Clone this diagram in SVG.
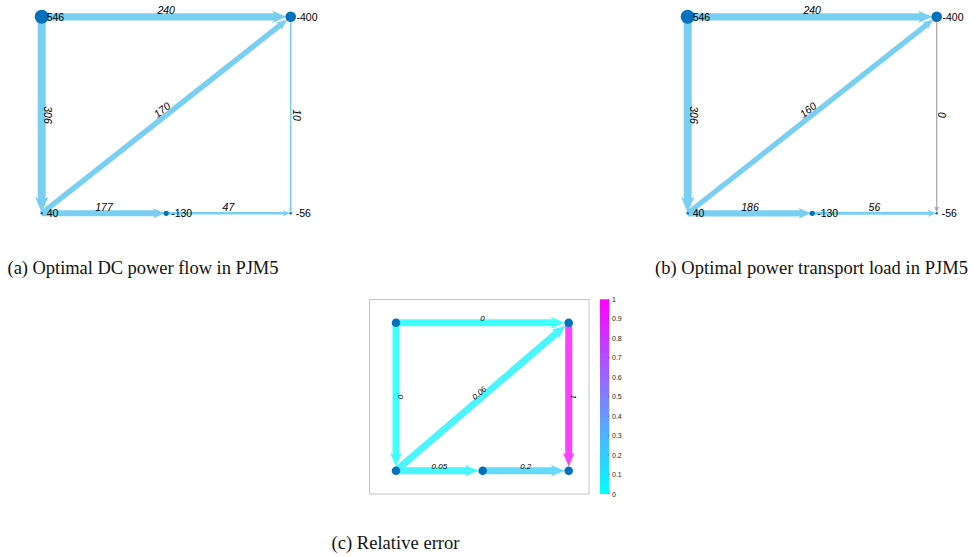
<svg xmlns="http://www.w3.org/2000/svg" width="980" height="557" viewBox="0 0 980 557">
<style>
text{font-family:"Liberation Sans",Arial,sans-serif;fill:#000}
.nl{font-size:10.5px}
.el{font-size:10.5px;font-style:italic;text-anchor:middle}
.ce{font-size:8px;font-style:italic;text-anchor:middle}
.tk{font-size:7px;fill:#262626}
.cap{font-family:"Liberation Serif","Times New Roman",serif;font-size:18.5px;fill:#111}
.e{fill:none;stroke-linecap:butt}
.b{stroke:#79CFF2;marker-end:url(#ab)}
.bt{stroke:#79CFF2;marker-end:url(#at)}
.g{stroke:#A6A6A6;marker-end:url(#ag)}
.nd{fill:#0072BD}
.frame{fill:none;stroke:#C4C4C4;stroke-width:1}
</style>
<defs>
<marker id="ab" viewBox="0 0 20 17" refX="6" refY="8.5" markerWidth="2" markerHeight="1.7" orient="auto" markerUnits="strokeWidth"><path d="M0,0 L20,8.5 L0,17 L6,8.5 Z" fill="#79CFF2"/></marker>
<marker id="at" viewBox="0 0 20 17" refX="6" refY="8.5" markerWidth="2.8" markerHeight="2.38" orient="auto" markerUnits="strokeWidth"><path d="M0,0 L20,8.5 L0,17 L6,8.5 Z" fill="#79CFF2"/></marker>
<marker id="ag" viewBox="0 0 20 17" refX="6" refY="8.5" markerWidth="5" markerHeight="4.25" orient="auto" markerUnits="strokeWidth"><path d="M0,0 L20,8.5 L0,17 L6,8.5 Z" fill="#A6A6A6"/></marker>
<marker id="c0" viewBox="0 0 20 17" refX="6" refY="8.5" markerWidth="2" markerHeight="1.7" orient="auto" markerUnits="strokeWidth"><path d="M0,0 L20,8.5 L0,17 L6,8.5 Z" fill="#40FFFF"/></marker>
<marker id="c06" viewBox="0 0 20 17" refX="6" refY="8.5" markerWidth="2" markerHeight="1.7" orient="auto" markerUnits="strokeWidth"><path d="M0,0 L20,8.5 L0,17 L6,8.5 Z" fill="#4BF4FF"/></marker>
<marker id="c05" viewBox="0 0 20 17" refX="6" refY="8.5" markerWidth="2" markerHeight="1.7" orient="auto" markerUnits="strokeWidth"><path d="M0,0 L20,8.5 L0,17 L6,8.5 Z" fill="#49F5FF"/></marker>
<marker id="c2" viewBox="0 0 20 17" refX="6" refY="8.5" markerWidth="2" markerHeight="1.7" orient="auto" markerUnits="strokeWidth"><path d="M0,0 L20,8.5 L0,17 L6,8.5 Z" fill="#66D9FF"/></marker>
<marker id="c1" viewBox="0 0 20 17" refX="6" refY="8.5" markerWidth="2" markerHeight="1.7" orient="auto" markerUnits="strokeWidth"><path d="M0,0 L20,8.5 L0,17 L6,8.5 Z" fill="#FF40FF"/></marker>
<linearGradient id="cool" x1="0" y1="1" x2="0" y2="0">
<stop offset="0" stop-color="#00FFFF"/><stop offset="1" stop-color="#FF00FF"/>
</linearGradient>
</defs>

<!-- Panel (a) -->
<g id="panel-a">
<g id="a-connectors">
<path class="e b" stroke-width="8" d="M41.7,16.8 L41.7,201.3"/>
<path class="e b" stroke-width="7.3" d="M41.7,16.8 L276.3,16.8"/>
<path class="e b" stroke-width="5.5" d="M41.7,213.3 L281.13,24.36"/>
<path class="e b" stroke-width="6" d="M41.7,213.3 L156.6,213.3"/>
<path class="e bt" stroke-width="2.6" d="M166.2,213.3 L284.9,213.3"/>
<path class="e bt" stroke-width="1.6" d="M290.7,16.8 L290.7,209.2"/>
<text class="el" x="166.2" y="14">240</text>
<text class="el" transform="translate(44.4,115) rotate(90)">306</text>
<text class="el" transform="translate(164.4,112.8) rotate(-38.3)">170</text>
<text class="el" x="104" y="211">177</text>
<text class="el" x="228.4" y="211">47</text>
<text class="el" transform="translate(292.6,115) rotate(90)">10</text>
</g>
<g id="a-n1"><circle class="nd" cx="41.7" cy="16.8" r="7"/><text class="nl" x="46.7" y="20.5">546</text></g>
<g id="a-n2"><circle class="nd" cx="290.7" cy="16.8" r="5.3"/><text class="nl" x="296.5" y="20.5">-400</text></g>
<g id="a-n3"><circle class="nd" cx="41.7" cy="213.3" r="1.3"/><text class="nl" x="46.7" y="217.2">40</text></g>
<g id="a-n4"><circle class="nd" cx="166.2" cy="213.3" r="2.6"/><text class="nl" x="171.2" y="217.2">-130</text></g>
<g id="a-n5"><circle class="nd" cx="290.7" cy="213.3" r="1.3"/><text class="nl" x="295.7" y="217.2">-56</text></g>
</g>

<!-- Panel (b) -->
<g id="panel-b" transform="translate(646,0)">
<g id="b-connectors">
<path class="e b" stroke-width="8" d="M41.7,16.8 L41.7,201.3"/>
<path class="e b" stroke-width="7.3" d="M41.7,16.8 L276.3,16.8"/>
<path class="e b" stroke-width="5.2" d="M41.7,213.3 L281.46,24.1"/>
<path class="e b" stroke-width="6.3" d="M41.7,213.3 L156.2,213.3"/>
<path class="e bt" stroke-width="3" d="M166.2,213.3 L284.1,213.3"/>
<path class="e g" stroke-width="1.2" d="M290.7,16.8 L290.7,208.1"/>
<text class="el" x="166.2" y="14">240</text>
<text class="el" transform="translate(44.4,115) rotate(90)">306</text>
<text class="el" transform="translate(164.4,112.8) rotate(-38.3)">160</text>
<text class="el" x="104" y="211">186</text>
<text class="el" x="228.4" y="211">56</text>
<text class="el" transform="translate(292.4,115) rotate(90)">0</text>
</g>
<g id="b-n1"><circle class="nd" cx="41.7" cy="16.8" r="7"/><text class="nl" x="46.7" y="20.5">546</text></g>
<g id="b-n2"><circle class="nd" cx="290.7" cy="16.8" r="5.3"/><text class="nl" x="296.5" y="20.5">-400</text></g>
<g id="b-n3"><circle class="nd" cx="41.7" cy="213.3" r="1.3"/><text class="nl" x="46.7" y="217.2">40</text></g>
<g id="b-n4"><circle class="nd" cx="166.2" cy="213.3" r="2.6"/><text class="nl" x="171.2" y="217.2">-130</text></g>
<g id="b-n5"><circle class="nd" cx="290.7" cy="213.3" r="1.3"/><text class="nl" x="295.7" y="217.2">-56</text></g>
</g>

<!-- Panel (c) -->
<g id="panel-c">
<rect class="frame" x="369.5" y="299.5" width="219.5" height="194.5"/>
<g id="c-connectors">
<path class="e" stroke="#40FFFF" stroke-width="7" marker-end="url(#c0)" d="M396,322.7 L396,456.7"/>
<path class="e" stroke="#FF40FF" stroke-width="7" marker-end="url(#c1)" d="M568.7,322.7 L568.7,456.7"/>
<path class="e" stroke="#4BF4FF" stroke-width="7" marker-end="url(#c06)" d="M396,470.7 L558,331.88"/>
<path class="e" stroke="#40FFFF" stroke-width="7" marker-end="url(#c0)" d="M396,322.7 L554.7,322.7"/>
<path class="e" stroke="#49F5FF" stroke-width="7" marker-end="url(#c05)" d="M396,470.7 L468.7,470.7"/>
<path class="e" stroke="#66D9FF" stroke-width="7" marker-end="url(#c2)" d="M482.7,470.7 L554.7,470.7"/>
<text class="ce" x="482.4" y="321.2">0</text>
<text class="ce" transform="translate(398.4,396.7) rotate(90)">0</text>
<text class="ce" transform="translate(481,395.1) rotate(-40.6)">0.06</text>
<text class="ce" transform="translate(570.5,396.7) rotate(90)">1</text>
<text class="ce" x="439.4" y="469.3">0.05</text>
<text class="ce" x="525.7" y="469.3">0.2</text>
</g>
<g id="c-n1"><circle class="nd" cx="396" cy="322.7" r="4.3"/></g>
<g id="c-n2"><circle class="nd" cx="568.7" cy="322.7" r="4.3"/></g>
<g id="c-n3"><circle class="nd" cx="396" cy="470.7" r="4.3"/></g>
<g id="c-n4"><circle class="nd" cx="482.7" cy="470.7" r="4.3"/></g>
<g id="c-n5"><circle class="nd" cx="568.7" cy="470.7" r="4.3"/></g>
<g id="colorbar">
<rect x="600" y="299.3" width="9.3" height="194.7" fill="url(#cool)"/>
<g stroke="#333" stroke-width="0.5">
<line x1="607.8" y1="299.6" x2="609.3" y2="299.6"/>
<line x1="607.8" y1="318.8" x2="609.3" y2="318.8"/>
<line x1="607.8" y1="338.2" x2="609.3" y2="338.2"/>
<line x1="607.8" y1="357.7" x2="609.3" y2="357.7"/>
<line x1="607.8" y1="377.2" x2="609.3" y2="377.2"/>
<line x1="607.8" y1="396.7" x2="609.3" y2="396.7"/>
<line x1="607.8" y1="416.1" x2="609.3" y2="416.1"/>
<line x1="607.8" y1="435.6" x2="609.3" y2="435.6"/>
<line x1="607.8" y1="455.1" x2="609.3" y2="455.1"/>
<line x1="607.8" y1="474.5" x2="609.3" y2="474.5"/>
<line x1="607.8" y1="493.7" x2="609.3" y2="493.7"/>
</g>
<text class="tk" x="612" y="302">1</text>
<text class="tk" x="612" y="321.3">0.9</text>
<text class="tk" x="612" y="340.7">0.8</text>
<text class="tk" x="612" y="360.2">0.7</text>
<text class="tk" x="612" y="379.7">0.6</text>
<text class="tk" x="612" y="399.2">0.5</text>
<text class="tk" x="612" y="418.6">0.4</text>
<text class="tk" x="612" y="438.1">0.3</text>
<text class="tk" x="612" y="457.6">0.2</text>
<text class="tk" x="612" y="477">0.1</text>
<text class="tk" x="612" y="496.5">0</text>
</g>
</g>

<text class="cap" x="7.5" y="273.5" textLength="271">(a) Optimal DC power flow in PJM5</text>
<text class="cap" x="655" y="273.5" textLength="313">(b) Optimal power transport load in PJM5</text>
<text class="cap" x="331.5" y="548.5" textLength="128">(c) Relative error</text>
</svg>
